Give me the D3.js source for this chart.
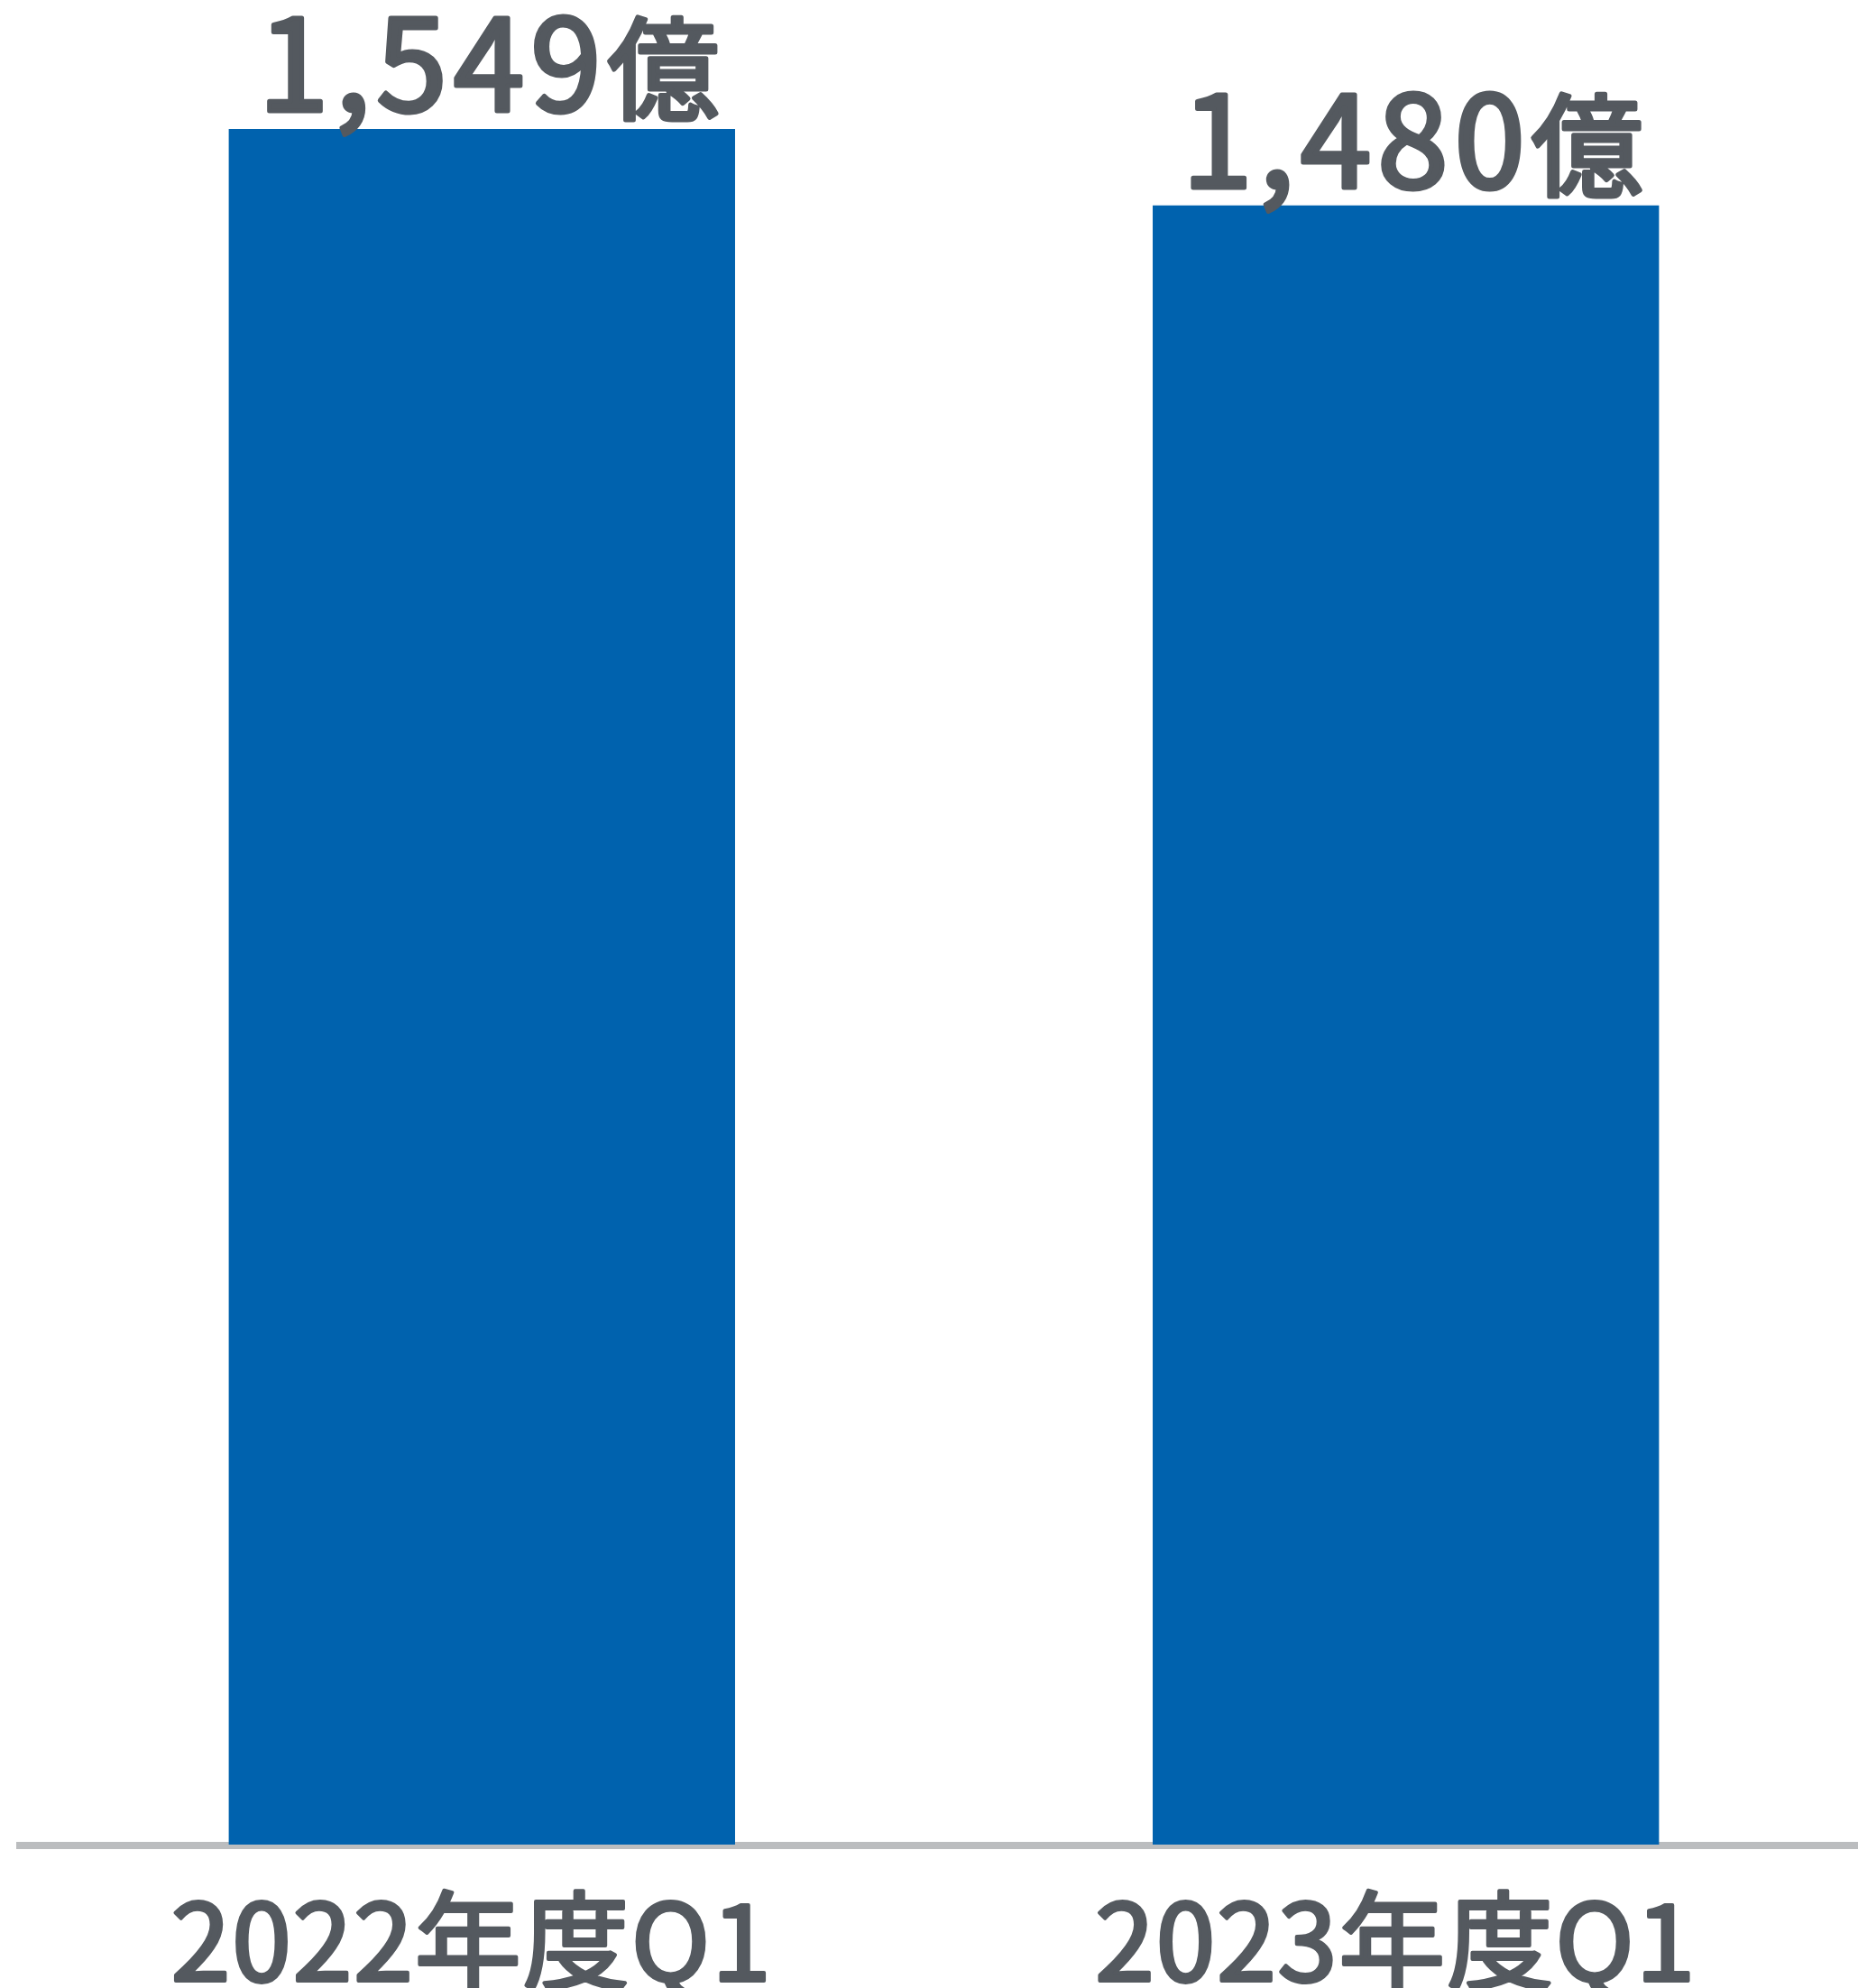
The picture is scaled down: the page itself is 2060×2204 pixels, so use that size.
<!DOCTYPE html>
<html>
<head>
<meta charset="utf-8">
<script src="https://cdn.jsdelivr.net/npm/d3@7"></script>
<style>
  html, body { margin: 0; padding: 0; background: #ffffff; }
  svg { display: block; }
</style>
</head>
<body>
<div id="chart"></div>
<script>
// Quarterly figures (億)
const categories = ["2022年度Q1", "2023年度Q1"];
const values = [1549, 1480];
const valueLabels = ["1,549", "1,480"];
const unitLabel = "億";

const width = 2060, height = 2204;
const baseline = 2045;
const fontFamily = '"Noto Sans CJK JP", "Noto Sans", sans-serif';
const textColor = "#54595f";
const barColor = "#0062ae";

const svg = d3.select("#chart").append("svg")
  .attr("width", width)
  .attr("height", height);

const x = d3.scaleBand()
  .domain(categories)
  .range([18, 2075])
  .paddingInner(0.452)
  .paddingOuter(0.23);

const y = d3.scaleLinear()
  .domain([0, 1549])
  .range([baseline, 143]);

// axis baseline
svg.append("line")
  .attr("x1", 18).attr("x2", width)
  .attr("y1", baseline + 1).attr("y2", baseline + 1)
  .attr("stroke", "#bbbdbf")
  .attr("stroke-width", 8);

// bars
svg.selectAll("rect.bar")
  .data(values)
  .join("rect")
  .attr("class", "bar")
  .attr("x", (d, i) => x(categories[i]))
  .attr("width", x.bandwidth())
  .attr("y", d => y(d))
  .attr("height", d => baseline - y(d))
  .attr("fill", barColor);

// value labels above bars (regular face with a thin outline for a medium weight)
const vl = svg.selectAll("text.value")
  .data(values)
  .join("text")
  .attr("class", "value")
  .attr("x", (d, i) => x(categories[i]) + x.bandwidth() / 2 + 11)
  .attr("y", d => y(d) - 20)
  .attr("text-anchor", "middle")
  .attr("font-family", fontFamily)
  .attr("font-weight", 400)
  .attr("font-size", 141)
  .attr("letter-spacing", 7)
  .attr("fill", textColor)
  .attr("stroke", textColor)
  .attr("stroke-width", 5)
  .attr("stroke-linejoin", "round");
vl.append("tspan").text((d, i) => valueLabels[i]);
vl.append("tspan").attr("font-size", 124).text(unitLabel);

// category labels below the axis
const xAxis = d3.axisBottom(x).tickSize(0).tickPadding(0);
const gx = svg.append("g")
  .attr("transform", `translate(0, ${baseline})`)
  .call(xAxis);
gx.select(".domain").remove();
gx.selectAll("text")
  .attr("dy", null)
  .attr("y", 151)
  .attr("x", -11)
  .attr("font-family", fontFamily)
  .attr("font-weight", 400)
  .attr("font-size", 118)
  .attr("letter-spacing", 2)
  .attr("fill", textColor)
  .attr("stroke", textColor)
  .attr("stroke-width", 4)
  .attr("stroke-linejoin", "round");
</script>
</body>
</html>
